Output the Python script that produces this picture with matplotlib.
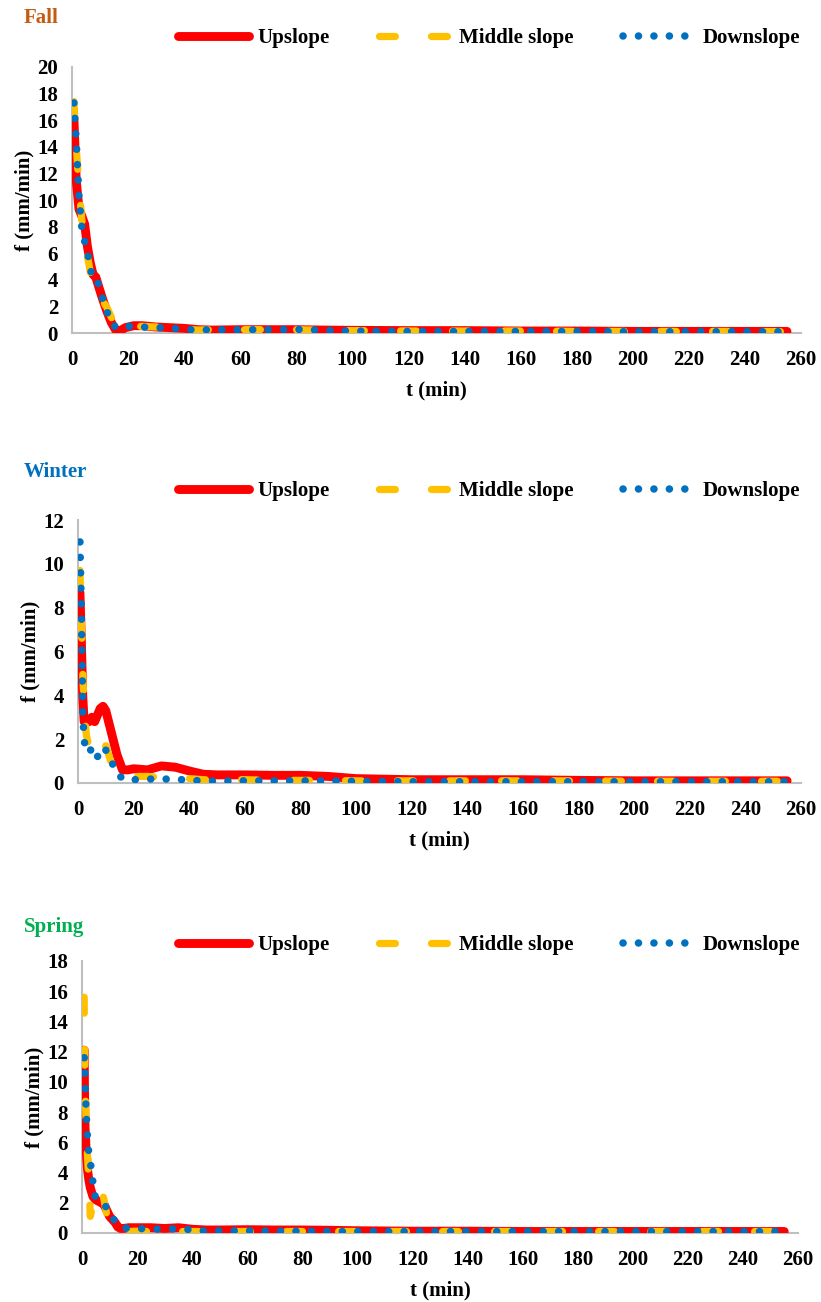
import matplotlib
matplotlib.use('Agg')
import matplotlib.pyplot as plt

plt.rcParams['font.family'] = ['Liberation Serif', 'DejaVu Serif']
plt.rcParams['font.weight'] = 'bold'

# Fall
t_fall = [0.7, 1.5, 2.5, 3.5, 4.5, 5.5, 6.5, 7.5, 8.5, 9.5, 11, 12.5, 14, 15.5, 17, 19, 22, 25,
          30, 35, 40, 45, 50, 60, 70, 80, 90, 100, 120, 140, 160, 180, 200, 220, 240, 255]
fall_up = [16.0, 11.5, 9.3, 8.8, 8.2, 6.5, 5.3, 4.4, 4.2, 3.5, 2.5, 1.6, 0.8, 0.25, 0.15, 0.4, 0.55, 0.55,
           0.45, 0.4, 0.35, 0.25, 0.22, 0.25, 0.25, 0.25, 0.22, 0.2, 0.18, 0.18, 0.15, 0.15, 0.12, 0.12, 0.12, 0.12]
fall_mid = [17.4, 14.0, 11.0, 8.5, 7.6, 5.8, 4.6, 3.7, 3.7, 3.0, 2.4, 1.9, 1.2, 0.45, 0.3, 0.45, 0.5, 0.5,
            0.45, 0.4, 0.3, 0.22, 0.25, 0.25, 0.25, 0.25, 0.2, 0.18, 0.15, 0.15, 0.15, 0.12, 0.12, 0.12, 0.12, 0.1]
fall_down = [17.3, 14.5, 10.2, 7.9, 6.9, 6.1, 4.9, 3.9, 3.85, 3.7, 2.5, 1.6, 0.8, 0.45, 0.35, 0.5, 0.5, 0.45,
             0.4, 0.38, 0.28, 0.22, 0.25, 0.25, 0.25, 0.28, 0.2, 0.15, 0.12, 0.12, 0.12, 0.12, 0.1, 0.1, 0.1, 0.1]

# Winter
t_win = [0.7, 1.2, 1.7, 2.2, 3, 4, 5, 6, 7, 8, 9, 10, 11, 12, 13, 14, 16, 18, 20, 25, 30, 35, 40,
         45, 50, 60, 70, 80, 90, 100, 120, 140, 160, 180, 200, 220, 240, 255]
win_up = [8.7, 6.5, 4.0, 2.8, 2.9, 2.8, 3.0, 2.8, 3.1, 3.4, 3.5, 3.3, 2.8, 2.3, 1.8, 1.3, 0.6, 0.6, 0.65,
          0.6, 0.78, 0.72, 0.55, 0.4, 0.37, 0.37, 0.35, 0.35, 0.3, 0.2, 0.15, 0.15, 0.15, 0.12, 0.1, 0.1, 0.1, 0.1]
win_mid = [9.7, 7.5, 5.0, 3.5, 2.2, 1.6, 1.4, 1.3, 1.2, 1.1, 1.5, 1.7, 1.3, 0.9, 0.6, 0.4, 0.3, 0.3, 0.3,
           0.3, 0.25, 0.22, 0.2, 0.15, 0.15, 0.15, 0.12, 0.12, 0.12, 0.1, 0.1, 0.1, 0.1, 0.1, 0.08, 0.08, 0.08, 0.08]
win_down = [11.0, 8.0, 3.3, 1.9, 1.6, 1.75, 1.3, 1.05, 1.2, 1.4, 1.65, 1.5, 1.2, 1.0, 0.7, 0.45, 0.2, 0.12,
            0.15, 0.18, 0.18, 0.18, 0.12, 0.1, 0.08, 0.1, 0.1, 0.1, 0.1, 0.08, 0.06, 0.06, 0.06, 0.06, 0.06,
            0.06, 0.06, 0.06]

# Spring
t_spr = [0.8, 0.9, 1.1, 1.5, 2, 2.5, 3, 3.5, 4, 4.5, 5, 6, 7, 8, 9, 10, 11, 12, 13, 14, 15, 17, 20, 25,
         30, 35, 40, 45, 50, 60, 70, 80, 90, 100, 120, 140, 160, 180, 200, 220, 240, 255]
spr_up = [12.1, 9.5, 7.0, 5.5, 4.2, 3.5, 3.0, 2.7, 2.4, 2.3, 2.2, 2.1, 2.0, 1.9, 1.5, 1.1, 0.9, 0.7, 0.4,
          0.3, 0.3, 0.35, 0.35, 0.35, 0.3, 0.35, 0.25, 0.2, 0.2, 0.22, 0.2, 0.2, 0.18, 0.15, 0.12, 0.12, 0.1,
          0.1, 0.1, 0.1, 0.1, 0.1]
spr_mid = [15.6, 12.5, 10.0, 7.0, 5.0, 3.5, 1.1, 1.5, 1.9, 2.1, 2.3, 2.7, 3.0, 2.2, 1.2, 0.6, 0.3, 0.15,
           0.1, 0.08, 0.08, 0.1, 0.12, 0.1, 0.1, 0.1, 0.1, 0.1, 0.1, 0.1, 0.1, 0.1, 0.1, 0.1, 0.1, 0.1, 0.1,
           0.1, 0.1, 0.1, 0.1, 0.1]
spr_down = [11.6, 11.2, 10.4, 8.0, 6.3, 5.2, 4.7, 4.1, 3.3, 2.5, 2.4, 2.3, 2.15, 2.0, 1.6, 1.3, 1.0, 0.8,
            0.6, 0.45, 0.35, 0.3, 0.3, 0.27, 0.25, 0.3, 0.2, 0.12, 0.15, 0.15, 0.12, 0.12, 0.1, 0.1, 0.1, 0.1,
            0.1, 0.1, 0.1, 0.1, 0.1, 0.1]

seasons = ['Fall', 'Winter', 'Spring']
season_colors = ['#C55A11', '#0070C0', '#00B050']
series_names = ['Upslope', 'Middle slope', 'Downslope']
y_max = [20, 12, 18]

panels = [
    (t_fall, fall_up, fall_mid, fall_down),
    (t_win, win_up, win_mid, win_down),
    (t_spr, spr_up, spr_mid, spr_down),
]

W, H = 821, 1302
# axes boxes in pixels: left, top, right, bottom
boxes = [(72, 67, 801, 333), (78, 520, 801, 783), (82, 961, 798, 1233)]
title_y = [18, 472, 927]
legend_y = [38, 491, 945]

fig = plt.figure(figsize=(W / 100, H / 100), dpi=100)

for i in range(3):
    l, tp, r, b = boxes[i]
    ax = fig.add_axes([l / W, 1 - b / H, (r - l) / W, (b - tp) / H])
    t, up, mid, down = panels[i]

    ax.plot(t, up, color='#FF0000', lw=6.4, solid_capstyle='round', solid_joinstyle='round',
            label=series_names[0], zorder=2)
    ax.plot(t, mid, color='#FFC000', lw=5.2, linestyle=(0, (2.2, 5.0)), dash_capstyle='round',
            dash_joinstyle='round', label=series_names[1], zorder=3)
    ax.plot(t, down, color='#0070C0', lw=5.4, linestyle=(0, (0.01, 2.05)), dash_capstyle='round',
            label=series_names[2], zorder=4)

    ax.set_xlim(0, 260)
    ax.set_ylim(0, y_max[i])
    ax.set_xticks(range(0, 261, 20))
    ax.set_yticks(range(0, y_max[i] + 1, 2))
    ax.tick_params(length=0, labelsize=15, pad=12)
    ax.tick_params(axis='y', pad=10)
    for s in ['top', 'right']:
        ax.spines[s].set_visible(False)
    for s in ['left', 'bottom']:
        ax.spines[s].set_color('#BFBFBF')
        ax.spines[s].set_linewidth(1.5)
        ax.spines[s].set_zorder(1)

    ax.set_xlabel('t (min)', fontsize=15, fontweight='bold', labelpad=8)
    ax.set_ylabel('f (mm/min)', fontsize=15, fontweight='bold', labelpad=2)

    fig.text(24 / W, 1 - title_y[i] / H, seasons[i], color=season_colors[i], fontsize=15,
             fontweight='bold', va='center', ha='left')

    leg = ax.legend(loc='center left', bbox_to_anchor=(178 / W, 1 - legend_y[i] / H),
                    bbox_transform=fig.transFigure, ncol=3, frameon=False, fontsize=15,
                    handlelength=3.4, handletextpad=0.4, columnspacing=2.4, borderpad=0,
                    borderaxespad=0)

fig.savefig('out.png', dpi=100)
